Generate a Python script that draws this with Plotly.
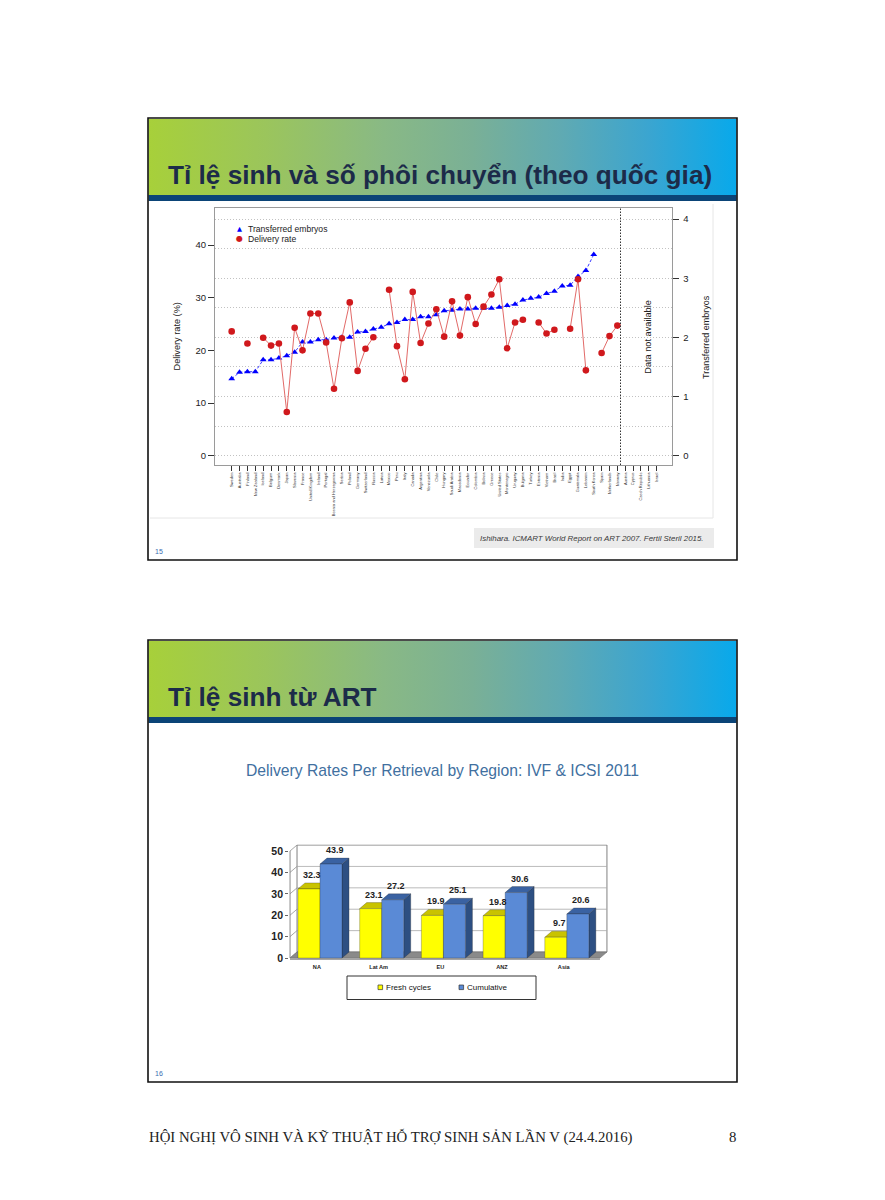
import plotly.graph_objects as go

# ---------------- data: chart 1 (ICMART 2007, by country) ----------------
countries = ["Sweden", "Australia", "Finland", "New Zealand", "Iceland", "Belgium", "Denmark",
             "Japan", "Slovenia", "France", "United Kingdom", "Ireland", "Portugal",
             "Bosnia and Herzegovina", "Serbia", "Poland", "Germany", "Switzerland", "Russia",
             "Latvia", "Mexico", "Peru", "Italy", "Canada", "Argentina", "Venezuela", "Chile",
             "Hungary", "Saudi Arabia", "Macedonia", "Ecuador", "Colombia", "Bolivia", "Greece",
             "United States", "Montenegro", "Uruguay", "Bulgaria", "Turkey", "Estonia", "Vietnam",
             "Brazil", "India", "Egypt", "Guatemala", "Lebanon", "South Korea", "Spain",
             "Netherlands", "Norway", "Austria", "Cyprus", "Czech Republic", "Lithuania", "Israel"]

delivery_rate = [23.6, None, 21.3, None, 22.4, 20.9, 21.3, 8.3, 24.3, 20.0,
                 27.0, 27.0, 21.5, 12.7, 22.3, 29.1, 16.1, 20.3, 22.5, None,
                 31.5, 20.8, 14.5, 31.1, 21.4, 25.1, 27.8, 22.6, 29.3, 22.8,
                 30.1, 25.0, 28.3, 30.6, 33.5, 20.4, 25.3, 25.8, None, 25.3,
                 23.2, 23.9, None, 24.1, 33.5, 16.2, None, 19.5, 22.7, 24.7,
                 None, None, None, None, None]

transferred_embryos = [1.30, 1.41, 1.42, 1.42, 1.62, 1.62, 1.65, 1.69, 1.75, 1.92,
                       1.92, 1.96, 1.96, 1.99, 2.00, 2.00, 2.09, 2.10, 2.14, 2.17,
                       2.23, 2.25, 2.30, 2.30, 2.35, 2.35, 2.38, 2.45, 2.46, 2.48,
                       2.48, 2.49, 2.49, 2.49, 2.51, 2.54, 2.56, 2.63, 2.66, 2.68,
                       2.74, 2.78, 2.87, 2.88, 3.03, 3.13, 3.40, None, None, None,
                       None, None, None, None, None]

last_with_data = "Norway"

# ---------------- data: chart 2 (delivery rates per retrieval, 2011) ----------------
regions = ["NA", "Lat Am", "EU", "ANZ", "Asia"]
fresh_cycles = [32.3, 23.1, 19.9, 19.8, 9.7]
cumulative = [43.9, 27.2, 25.1, 30.6, 20.6]

# ---------------- helpers ----------------
W, H = 885, 1200
FONT = "Liberation Sans, Arial, sans-serif"


def xp(px):
    return px / W


def yp(py):
    return 1 - py / H


fig = go.Figure()

# ---------------- page decoration (page axis x/y in pixels) ----------------
grad_scale = [[0.0, "#a7d03a"], [0.2, "#9bc55c"], [0.4, "#89b985"], [0.55, "#7ab096"],
              [0.7, "#60aab2"], [0.85, "#3ba5d0"], [1.0, "#08a9eb"]]
for top, bot in [(119, 195), (641, 717)]:
    fig.add_trace(go.Scatter(
        x=[148.5, 736.5, 736.5, 148.5, 148.5], y=[top, top, bot, bot, top],
        mode="lines", line=dict(width=0), fill="toself",
        fillgradient=dict(type="horizontal", colorscale=grad_scale),
        hoverinfo="skip", showlegend=False, xaxis="x", yaxis="y"))

shapes = []
annotations = []

# slide frames and dark bands
for top, bot, band in [(118, 560, 195), (640, 1082, 717)]:
    shapes.append(dict(type="rect", xref="x", yref="y", x0=148.5, x1=736.5, y0=band, y1=band + 6,
                       fillcolor="#0b4477", line=dict(width=0), layer="above"))
    shapes.append(dict(type="rect", xref="x", yref="y", x0=148, x1=737, y0=top, y1=bot,
                       line=dict(color="#111111", width=1.6), layer="above"))

# faint edges of the embedded picture
shapes.append(dict(type="line", xref="x", yref="y", x0=150, x1=713, y0=518, y1=518,
                   line=dict(color="#e6e6e6", width=1)))
shapes.append(dict(type="line", xref="x", yref="y", x0=713, x1=713, y0=204, y1=518,
                   line=dict(color="#e6e6e6", width=1)))

# citation box
shapes.append(dict(type="rect", xref="x", yref="y", x0=474, x1=714, y0=528, y1=548,
                   fillcolor="#ebebeb", line=dict(width=0)))
annotations.append(dict(xref="x", yref="y", x=478, y=538.5, xanchor="left", yanchor="middle",
                        text="<i>Ishihara. ICMART World Report on ART 2007. Fertil Steril 2015.</i>",
                        showarrow=False, font=dict(family=FONT, size=7.9, color="#3a3a3a")))

# slide titles
annotations.append(dict(xref="x", yref="y", x=166, y=175, xanchor="left", yanchor="middle",
                        text="<b>Tỉ lệ sinh và số phôi chuyển (theo quốc gia)</b>", showarrow=False,
                        font=dict(family=FONT, size=26.2, color="#1c2b49")))
annotations.append(dict(xref="x", yref="y", x=166, y=697, xanchor="left", yanchor="middle",
                        text="<b>Tỉ lệ sinh từ ART</b>", showarrow=False,
                        font=dict(family=FONT, size=26.2, color="#1c2b49")))

# slide numbers
for num, yy in [("15", 551), ("16", 1073)]:
    annotations.append(dict(xref="x", yref="y", x=153, y=yy, xanchor="left", yanchor="middle",
                            text=num, showarrow=False, font=dict(family=FONT, size=7, color="#3a6db0")))

# footer
annotations.append(dict(xref="x", yref="y", x=147, y=1137, xanchor="left", yanchor="middle",
                        text="HỘI NGHỊ VÔ SINH VÀ KỸ THUẬT HỖ TRỢ SINH SẢN LẦN V (24.4.2016)",
                        showarrow=False,
                        font=dict(family="Liberation Serif, DejaVu Serif, serif", size=14.8, color="#222222")))
annotations.append(dict(xref="x", yref="y", x=738, y=1137, xanchor="right", yanchor="middle",
                        text="8", showarrow=False,
                        font=dict(family="Liberation Serif, DejaVu Serif, serif", size=14.8, color="#222222")))

# ---------------- chart 1 ----------------
idx = list(range(len(countries)))
fig.add_trace(go.Scatter(
    x=idx, y=transferred_embryos, mode="lines+markers", name="Transferred embryos",
    marker=dict(symbol="triangle-up", size=6, color="#0000ff"),
    line=dict(color="#3a3aff", width=1, dash="3px,2px"), connectgaps=False,
    xaxis="x2", yaxis="y2", showlegend=False, hoverinfo="skip"))
fig.add_trace(go.Scatter(
    x=idx, y=delivery_rate, mode="lines+markers", name="Delivery rate",
    marker=dict(symbol="circle", size=6.6, color="#d0181c"),
    line=dict(color="#e26a68", width=1), connectgaps=False,
    xaxis="x2", yaxis="y3", showlegend=False, hoverinfo="skip"))

divider_x = countries.index(last_with_data) + 0.4
shapes.append(dict(type="line", xref="x2", yref="y2 domain", x0=divider_x, x1=divider_x, y0=0, y1=1,
                   line=dict(color="#333333", width=1, dash="1.5px,1.5px")))
annotations.append(dict(xref="x2", yref="y3", x=52.9, y=22.6, text="Data not available",
                        textangle=-90, showarrow=False,
                        font=dict(family=FONT, size=9.2, color="#222222")))

# axis titles
annotations.append(dict(xref="x", yref="y", x=176.5, y=337, text="Delivery rate (%)", textangle=-90,
                        showarrow=False, font=dict(family=FONT, size=9.2, color="#222222")))
annotations.append(dict(xref="x", yref="y", x=706, y=337, text="Transferred embryos", textangle=-90,
                        showarrow=False, font=dict(family=FONT, size=9, color="#222222")))

# legend (chart 1)
for sym, col, label, yy, sz in [("▲", "#0000ff", "Transferred embryos", 228.5, 6.5),
                                ("●", "#d0181c", "Delivery rate", 238.5, 8)]:
    annotations.append(dict(xref="x", yref="y", x=239.3, y=yy, text=sym, showarrow=False,
                            xanchor="center", yanchor="middle",
                            font=dict(family="DejaVu Sans", size=sz, color=col)))
    annotations.append(dict(xref="x", yref="y", x=246, y=yy, text=label, showarrow=False,
                            xanchor="left", yanchor="middle",
                            font=dict(family=FONT, size=8.6, color="#222222")))

# ---------------- chart 2 (pseudo-3D clustered columns) ----------------
bw = 0.357      # bar width in category units
ddx = 0.1135    # depth offset, x units
ddy = 2.8       # depth offset, y units
x_front_left = -0.486
x_back_right = 4.65


def faces(vals, offset):
    fx, fy, tx, ty, sx, sy = [], [], [], [], [], []
    for k, v in enumerate(vals):
        x0 = k + offset
        x1 = x0 + bw
        fx += [x0, x1, x1, x0, x0, None]
        fy += [0, 0, v, v, 0, None]
        tx += [x0, x1, x1 + ddx, x0 + ddx, x0, None]
        ty += [v, v, v + ddy, v + ddy, v, None]
        sx += [x1, x1 + ddx, x1 + ddx, x1, x1, None]
        sy += [0, ddy, v + ddy, v, 0, None]
    return (fx, fy), (tx, ty), (sx, sy)


edge = dict(color="rgba(40,40,40,0.55)", width=0.5)
for vals, offset, cols, name in [(fresh_cycles, -bw, ("#ffff00", "#c9c300", "#a19c00"), "Fresh cycles"),
                                 (cumulative, 0.0, ("#5a8ad6", "#3a62a2", "#2d4f82"), "Cumulative")]:
    front, top, side = faces(vals, offset)
    for (xx, yy), col in [(side, cols[2]), (top, cols[1]), (front, cols[0])]:
        fig.add_trace(go.Scatter(x=xx, y=yy, mode="lines", line=edge, fill="toself", fillcolor=col,
                                 xaxis="x4", yaxis="y4", showlegend=False, hoverinfo="skip", name=name))
    for k, v in enumerate(vals):
        annotations.append(dict(xref="x4", yref="y4", x=k + offset + bw / 2 + ddx / 2, y=v + ddy,
                                yanchor="bottom", yshift=1, text=f"<b>{v}</b>", showarrow=False,
                                font=dict(family=FONT, size=9, color="#222222")))

# back wall, left wall, floor
x_back_left = x_front_left + ddx
shapes.append(dict(type="rect", xref="x4", yref="y4", x0=x_back_left, x1=x_back_right, y0=ddy, y1=50 + ddy,
                   fillcolor="white", line=dict(color="#808080", width=1), layer="below"))
for v in range(0, 51, 10):
    if 0 < v < 50:
        shapes.append(dict(type="line", xref="x4", yref="y4", x0=x_back_left, x1=x_back_right,
                           y0=v + ddy, y1=v + ddy, line=dict(color="#a8a8a8", width=0.8), layer="below"))
    shapes.append(dict(type="line", xref="x4", yref="y4", x0=x_front_left, x1=x_back_left,
                       y0=v, y1=v + ddy, line=dict(color="#909090", width=0.8), layer="below"))
shapes.append(dict(type="line", xref="x4", yref="y4", x0=x_front_left, x1=x_front_left, y0=0, y1=50,
                   line=dict(color="#808080", width=1), layer="below"))
x_front_right = x_back_right - ddx
shapes.append(dict(type="path", xref="x4", yref="y4",
                   path=f"M {x_front_left},0 L {x_front_right},0 L {x_back_right},{ddy} L {x_back_left},{ddy} Z",
                   fillcolor="#8a8a8a", line=dict(color="#707070", width=0.6), layer="below"))
shapes.append(dict(type="path", xref="x4", yref="y4",
                   path=f"M {x_front_left},0 L {x_front_right},0 L {x_front_right},-0.9 L {x_front_left},-0.9 Z",
                   fillcolor="#a5a5a5", line=dict(width=0), layer="below"))

annotations.append(dict(xref="x", yref="y", x=442, y=770,
                        text="Delivery Rates Per Retrieval by Region: IVF &amp; ICSI 2011",
                        showarrow=False, font=dict(family=FONT, size=15.7, color="#41709f")))

# legend (chart 2)
shapes.append(dict(type="rect", xref="x", yref="y", x0=347, x1=536, y0=976, y1=999.5,
                   fillcolor="white", line=dict(color="#333333", width=1)))
for x0, col, label in [(378, "#ffff00", "Fresh cycles"), (459, "#5a8ad6", "Cumulative")]:
    shapes.append(dict(type="rect", xref="x", yref="y", x0=x0, x1=x0 + 4.6, y0=985, y1=989.6,
                       fillcolor=col, line=dict(color="#333333", width=0.7)))
    annotations.append(dict(xref="x", yref="y", x=x0 + 5.5, y=987.5, xanchor="left", yanchor="middle",
                            text=label, showarrow=False, font=dict(family=FONT, size=8, color="#111111")))

# ---------------- layout ----------------
c1_left, c1_right, c1_top, c1_bot = 215, 672.3, 208.3, 465
c2_left, c2_right, c2_top, c2_bot = 289.15, 616.2, 844.6, 962.3
GRID = dict(gridcolor="#c2c2c2", griddash="1px,2px", gridwidth=1)

fig.update_layout(
    width=W, height=H, autosize=False,
    margin=dict(l=0, r=0, t=0, b=0, pad=0),
    paper_bgcolor="white", plot_bgcolor="rgba(0,0,0,0)",
    font=dict(family=FONT, color="#222222"),
    showlegend=False,
    xaxis=dict(domain=[0, 1], range=[0, W], visible=False, fixedrange=True),
    yaxis=dict(domain=[0, 1], range=[H, 0], visible=False, fixedrange=True),
    xaxis2=dict(domain=[xp(c1_left), xp(c1_right)], range=[-2.12, 55.98], anchor="y2",
                tickmode="array", tickvals=idx, ticktext=countries, tickangle=-90,
                tickfont=dict(size=4, color="#333333"), ticks="outside", ticklen=5,
                tickcolor="#333333", showline=True, mirror=True, linecolor="#9a9a9a",
                showgrid=False, zeroline=False),
    yaxis2=dict(domain=[yp(c1_bot), yp(c1_top)], range=[-0.157, 4.181], anchor="x2", side="right",
                tickmode="array", tickvals=[0, 1, 2, 3, 4], ticks="outside", ticklen=6,
                tickcolor="#333333", tickfont=dict(size=9.5, color="#222222"), ticklabelstandoff=2,
                showline=True, mirror=True, linecolor="#9a9a9a",
                showgrid=True, zeroline=False, **GRID,
                minor=dict(dtick=0.5, tick0=0, showgrid=True, ticks="", **GRID)),
    yaxis3=dict(overlaying="y2", anchor="x2", side="left", range=[-1.77, 46.97],
                tickmode="array", tickvals=[0, 10, 20, 30, 40], ticks="outside", ticklen=6,
                tickcolor="#333333", tickfont=dict(size=9.5, color="#222222"),
                showgrid=False, zeroline=False, showline=False),
    xaxis4=dict(domain=[xp(c2_left), xp(c2_right)], range=[-0.5, 4.8], anchor="y4",
                tickmode="array", tickvals=[k - 0.05 for k in range(len(regions))], ticktext=regions,
                tickfont=dict(size=5.6, color="#222222", weight="bold"), ticks="",
                showgrid=False, zeroline=False, showline=False),
    yaxis4=dict(domain=[yp(c2_bot), yp(c2_top)], range=[-2, 53], anchor="x4",
                tickmode="array", tickvals=[0, 10, 20, 30, 40, 50], ticks="outside", ticklen=3,
                tickcolor="#666666", tickfont=dict(size=10.5, color="#222222", weight="bold"),
                showgrid=False, zeroline=False, showline=False),
    shapes=shapes,
    annotations=annotations,
)

fig.write_html("out.html", config={"displayModeBar": False},
               post_script="document.body.style.margin='0';document.body.style.padding='0';")
